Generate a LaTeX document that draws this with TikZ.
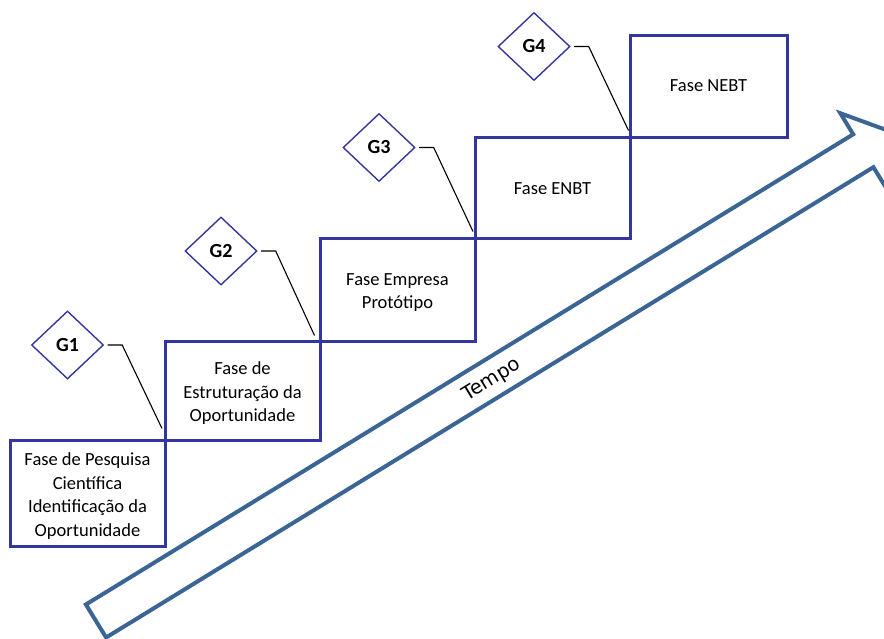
\documentclass[tikz,border=0pt]{standalone}
\usepackage{fontspec}
\setmainfont{Carlito}
\newfontfamily\tempofont{DejaVu Sans}
\usetikzlibrary{shapes.geometric,calc}
\definecolor{boxblue}{HTML}{3535A0}
\definecolor{arrowblue}{HTML}{3B6595}
\tikzset{
  phase/.style={draw=boxblue, line width=3pt, rectangle, inner sep=0pt, align=center,
    font=\fontsize{18.5}{23.5}\selectfont},
  gate/.style={draw=boxblue, line width=1.4pt, diamond, inner sep=0pt,
    minimum width=72pt, minimum height=68pt, font=\fontsize{20}{22}\selectfont\bfseries},
  link/.style={draw=black, line width=1.1pt},
  bigarrow/.style={draw=arrowblue, line width=4pt, line join=miter}
}
\begin{document}
\begin{tikzpicture}[x=1pt,y=-1pt]
\useasboundingbox (0,0) rectangle (884,638);
% time arrow
\begin{scope}
\clip (0,0) rectangle (884,638);
\draw[bigarrow] (85.9,604.5) -- (853.2,134.3) -- (840.3,113.2) -- (893.2,132.5)
  -- (886.3,188.2) -- (873.4,167.2) -- (106.1,637.5) -- cycle;
\end{scope}
\node[rotate=31.5, font=\tempofont\fontsize{19.5}{22}\selectfont] (tempo) at (492,380) {Tempo};
% phases
\node[phase, minimum width=155pt, minimum height=106pt] (b1) at (87.5,493) {};
\node[phase, minimum width=155pt, minimum height=99pt] (b2) at (242.5,390.5) {};
\node[phase, minimum width=155pt, minimum height=103pt] (b3) at (397.5,289.5) {};
\node[phase, minimum width=155pt, minimum height=101pt] (b4) at (552.5,187.5) {};
\node[phase, minimum width=157pt, minimum height=102pt] (b5) at (708.5,86) {};
\node[phase, draw=none] (t1) at ($(b1.center)+(0,3)$)
  {Fase de Pesquisa\\Científica\\Identificação da\\Oportunidade};
\node[phase, draw=none] (t2) at ($(b2.center)+(0,3)$)
  {Fase de\\Estruturação da\\Oportunidade};
\node[phase, draw=none] (t3) at ($(b3.center)+(0,3)$) {Fase Empresa\\Protótipo};
\node[phase, draw=none] (t4) at ($(b4.center)+(0,1)$) {Fase ENBT};
\node[phase, draw=none] (t5) at ($(b5.center)+(0,0)$) {Fase NEBT};
% gates
\node[gate] (g1) at (67.5,345) {G1};
\node[gate] (g2) at (221,251) {G2};
\node[gate] (g3) at (379,147.5) {G3};
\node[gate] (g4) at (534,46.5) {G4};
% connector ends
\coordinate (s1) at ($(g1.east)+(3.5,0)$);
\coordinate (k1) at ($(g1.east)+(18,0)$);
\coordinate (e1) at ($(b1.north east)+(-4.5,-10)$);
\coordinate (s2) at ($(g2.east)+(3.5,0)$);
\coordinate (k2) at ($(g2.east)+(18,0)$);
\coordinate (e2) at ($(b2.north east)+(-7,-4)$);
\coordinate (s3) at ($(g3.east)+(3.5,0)$);
\coordinate (k3) at ($(g3.east)+(18,0)$);
\coordinate (e3) at ($(b3.north east)+(-3.5,-5)$);
\coordinate (s4) at ($(g4.east)+(3.5,0)$);
\coordinate (k4) at ($(g4.east)+(18,0)$);
\coordinate (e4) at ($(b4.north east)+(-3,-5)$);
\draw[link] (s1) -- (k1) -- (e1);
\draw[link] (s2) -- (k2) -- (e2);
\draw[link] (s3) -- (k3) -- (e3);
\draw[link] (s4) -- (k4) -- (e4);
\end{tikzpicture}
\end{document}
